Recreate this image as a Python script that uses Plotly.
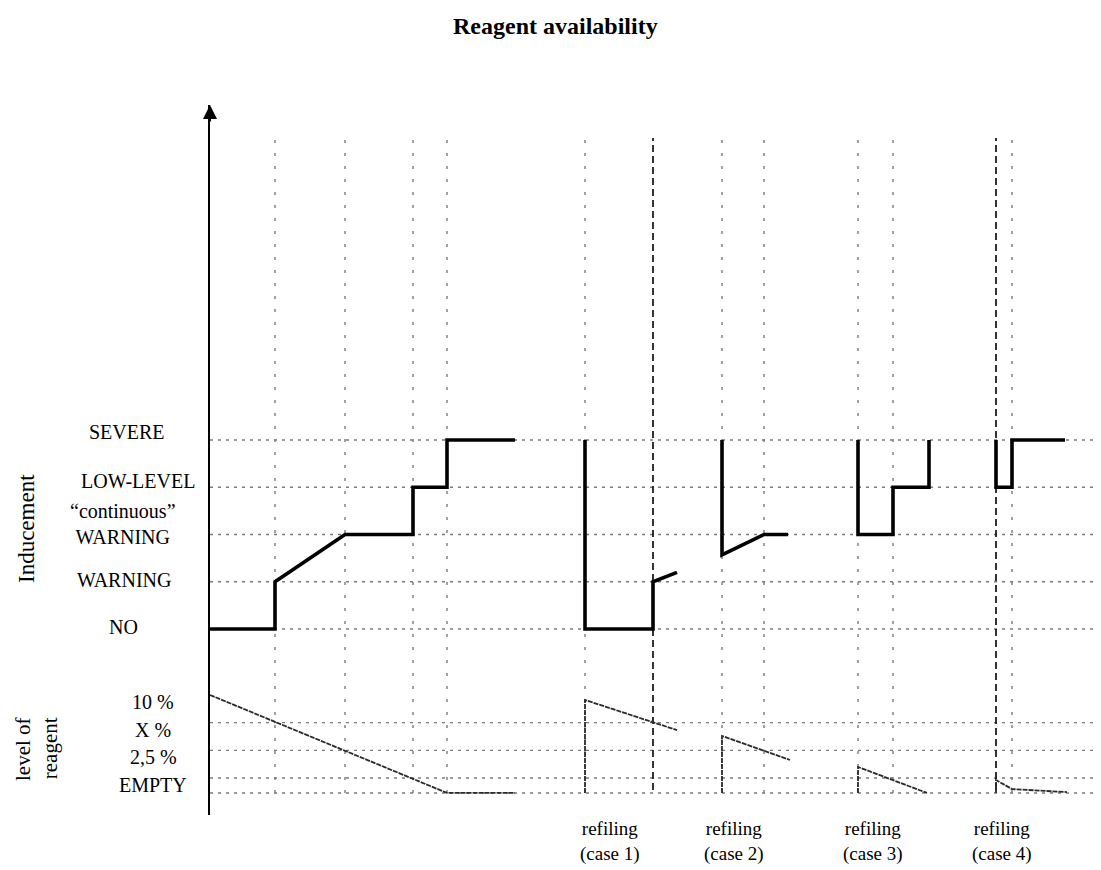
import plotly.graph_objects as go

# ---------------- data ----------------
# Inducement levels (ordinal scale)
ind_labels = ["NO", "WARNING", "\u201ccontinuous\u201d<br>WARNING", "LOW-LEVEL", "SEVERE"]
ind_values = [0, 1, 2, 3, 4]

# Reagent levels (schematic scale)
reag_labels = ["10 %", "X %", "2,5 %", "EMPTY"]
reag_values = [3, 2, 1, 0]
reag_grid_values = [2, 1, 0, -0.54]

# Time marks (arbitrary time units)
event_times = [6.5, 13.5, 20.3, 23.7, 37.5, 51.2, 55.4, 64.8, 68.3, 80.2]
dashed_times = [44.3, 78.6]
refill_labels = ["refiling<br>(case 1)", "refiling<br>(case 2)",
                 "refiling<br>(case 3)", "refiling<br>(case 4)"]
refill_label_times = [40.0, 52.4, 66.3, 79.2]

# Inducement traces
ind_main_t = [0, 6.5, 6.5, 13.5, 20.3, 20.3, 23.7, 23.7, 30.5]
ind_main_v = [0, 0, 1, 2, 2, 3, 3, 4, 4]
ind_c1_t = [37.5, 37.5, 44.3, 44.3, 46.7]
ind_c1_v = [4, 0, 0, 1, 1.2]
ind_c2_t = [51.2, 51.2, 55.4, 57.8]
ind_c2_v = [4, 1.57, 2, 2]
ind_c3_t = [64.8, 64.8, 68.3, 68.3, 71.9, 71.9]
ind_c3_v = [4, 2, 2, 3, 3, 4]
ind_c4_t = [78.6, 78.6, 80.2, 80.2, 85.5]
ind_c4_v = [4, 3, 3, 4, 4]

# Reagent traces
reag_main_t = [0, 23.7, 30.5]
reag_main_v = [3, -0.54, -0.54]
reag_c1_t = [37.5, 37.5, 46.7]
reag_c1_v = [-0.54, 2.82, 1.73]
reag_c2_t = [51.2, 51.2, 58.0]
reag_c2_v = [-0.54, 1.52, 0.65]
reag_c3_t = [64.8, 64.8, 71.7]
reag_c3_v = [-0.54, 0.40, -0.54]
reag_c4_t = [78.6, 78.6, 80.2, 85.7]
reag_c4_v = [-0.54, -0.07, -0.40, -0.51]

# ---------------- layout geometry ----------------
PAGE_W, PAGE_H = 1101, 870
BODY = 8                      # default page body margin
W, H = PAGE_W - BODY, PAGE_H - BODY
PL, PT, PB = 210, 105, 815    # plot area edges in page pixels
PX_PER_T = 10.0
IND0_PX, IND_STEP = 629.0, 47.25
REAG0_PX, REAG_STEP = 778.0, 27.67
FONT = "Liberation Serif"


def px_x(px):
    return (px - PL) / (PAGE_W - PL)


def px_y(py):
    return (PB - py) / (PB - PT)


y_range = [(IND0_PX - PB) / IND_STEP, (IND0_PX - PT) / IND_STEP]
y2_range = [(REAG0_PX - PB) / REAG_STEP, (REAG0_PX - PT) / REAG_STEP]
x_range = [0, (PAGE_W - PL) / PX_PER_T]

fig = go.Figure()

ind_line = dict(color="black", width=3.6)
reag_line = dict(color="#2a2a2a", width=1.8, dash="5px,1px")

for t, v in [(ind_main_t, ind_main_v), (ind_c1_t, ind_c1_v), (ind_c2_t, ind_c2_v),
             (ind_c3_t, ind_c3_v), (ind_c4_t, ind_c4_v)]:
    fig.add_trace(go.Scatter(x=t, y=v, mode="lines", line=ind_line, yaxis="y",
                             hoverinfo="skip"))

for t, v in [(reag_main_t, reag_main_v), (reag_c1_t, reag_c1_v), (reag_c2_t, reag_c2_v),
             (reag_c3_t, reag_c3_v), (reag_c4_t, reag_c4_v)]:
    fig.add_trace(go.Scatter(x=t, y=v, mode="lines", line=reag_line, yaxis="y2",
                             hoverinfo="skip"))

shapes = []
hgrid = dict(color="#7a7a7a", width=1.4, dash="3px,5px")
for v in ind_values:
    shapes.append(dict(type="line", xref="paper", x0=0, x1=1, yref="y", y0=v, y1=v,
                       line=hgrid, layer="below"))
for v in reag_grid_values:
    shapes.append(dict(type="line", xref="paper", x0=0, x1=1, yref="y2", y0=v, y1=v,
                       line=hgrid, layer="below"))
for t in event_times:
    shapes.append(dict(type="line", xref="x", x0=t, x1=t, yref="paper",
                       y0=px_y(793), y1=px_y(140),
                       line=dict(color="#7a7a7a", width=1.4, dash="3px,10px"),
                       layer="below"))
for t in dashed_times:
    shapes.append(dict(type="line", xref="x", x0=t, x1=t, yref="paper",
                       y0=px_y(790), y1=px_y(138),
                       line=dict(color="#111111", width=1.7, dash="7px,4px"),
                       layer="below"))

annotations = []
annotations.append(dict(text="<b>Reagent availability</b>", xref="paper", yref="paper",
                        x=px_x(555), y=px_y(26), showarrow=False,
                        font=dict(family=FONT, size=24, color="black"),
                        xanchor="center", yanchor="middle"))
annotations.append(dict(text="", xref="paper", yref="paper", x=0, y=1, ax=0, ay=18,
                        showarrow=True, arrowhead=2, arrowsize=1.4, arrowwidth=2,
                        arrowcolor="black"))
ind_label_x = [123, 124, 123, 138, 127]
ind_label_shift = [2, 2, 11, 6, 8]
for lab, v, lx, sh in zip(ind_labels, ind_values, ind_label_x, ind_label_shift):
    annotations.append(dict(text=lab, xref="paper", yref="y", x=px_x(lx), y=v, yshift=sh,
                            showarrow=False, xanchor="center", yanchor="middle",
                            align="center",
                            font=dict(family=FONT, size=20, color="black")))
for lab, v in zip(reag_labels, reag_values):
    annotations.append(dict(text=lab, xref="paper", yref="y2", x=px_x(153), y=v, yshift=-7,
                            showarrow=False, xanchor="center", yanchor="middle",
                            font=dict(family=FONT, size=20, color="black")))
annotations.append(dict(text="Inducement", xref="paper", yref="paper", x=px_x(26),
                        y=px_y(529), showarrow=False, textangle=-90,
                        xanchor="center", yanchor="middle",
                        font=dict(family=FONT, size=23, color="black")))
annotations.append(dict(text="level of<br>reagent", xref="paper", yref="paper", x=px_x(36),
                        y=px_y(749), showarrow=False, textangle=-90, align="right",
                        xanchor="center", yanchor="middle",
                        font=dict(family=FONT, size=21, color="black")))
for lab, t in zip(refill_labels, refill_label_times):
    annotations.append(dict(text=lab, xref="x", yref="paper", x=t, y=px_y(841),
                            showarrow=False, xanchor="center", yanchor="middle",
                            font=dict(family=FONT, size=19, color="black")))

fig.update_layout(
    width=W, height=H,
    margin=dict(l=PL - BODY, r=0, t=PT - BODY, b=PAGE_H - PB, pad=0),
    paper_bgcolor="white", plot_bgcolor="white",
    showlegend=False, hovermode=False,
    xaxis=dict(range=x_range, visible=False, showgrid=False, zeroline=False),
    yaxis=dict(range=y_range, showgrid=False, zeroline=False, showticklabels=False,
               ticks="", showline=True, linecolor="black", linewidth=2),
    yaxis2=dict(range=y2_range, overlaying="y", visible=False, showgrid=False,
                zeroline=False),
    shapes=shapes,
    annotations=annotations,
)

fig.write_html("out.html")
